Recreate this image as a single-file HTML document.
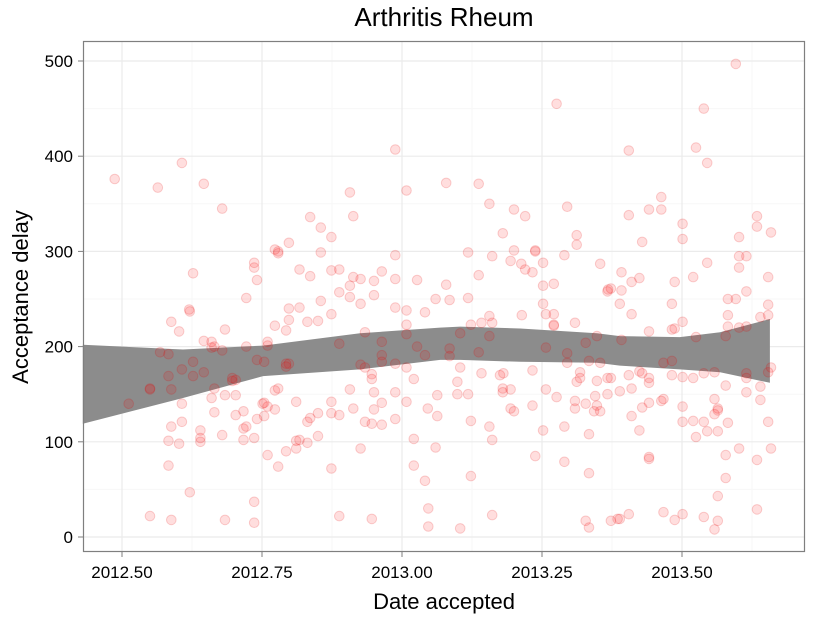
<!DOCTYPE html>
<html><head><meta charset="utf-8"><style>
html,body{margin:0;padding:0;background:#fff;}
svg text{font-family:"Liberation Sans",sans-serif;}
</style></head><body>
<svg id="chart" width="825" height="618" xmlns="http://www.w3.org/2000/svg">
<text x="444" y="26" font-size="26" text-anchor="middle" fill="#000">Arthritis Rheum</text>
<g id="grid"></g>
<g id="ribbon"></g>
<g id="points"></g>
<rect x="83.5" y="41.5" width="721" height="510" fill="none" stroke="#7f7f7f" stroke-width="1.2"/>
<g id="axes"></g>
<text x="444" y="609" font-size="22" text-anchor="middle" fill="#000">Date accepted</text>
<text transform="translate(28,297) rotate(-90)" font-size="22" text-anchor="middle" fill="#000">Acceptance delay</text>
</svg>
<script>
const xTicks=[2012.5,2012.75,2013.0,2013.25,2013.5];
const xTickLabels=["2012.50","2012.75","2013.00","2013.25","2013.50"];
const yTicks=[0,100,200,300,400,500];
const yTickLabels=["0","100","200","300","400","500"];
const ribbonDates=[2012.430,2012.609,2012.752,2012.925,2013.068,2013.104,2013.211,2013.348,2013.389,2013.496,2013.568,2013.657];
const ribbonUpper=[202,197,201,214,220,221,219,214,211,210,215,229];
const ribbonLower=[119,146,169,176,186,186,184,183,180,176,173,162];
const dates=[2012.487,2012.607,2012.564,2012.646,2012.679,2012.736,2012.736,2012.741,2012.627,2012.722,2012.621,2012.620,2012.588,2012.602,2012.684,2012.646,2012.660,2012.660,2012.665,2012.679,2012.722,2012.741,2012.568,2012.583,2012.627,2012.607,2012.583,2012.627,2012.646,2012.550,2012.550,2012.588,2012.697,2012.703,2012.697,2012.512,2012.665,2012.660,2012.684,2012.703,2012.607,2012.665,2012.703,2012.717,2012.751,2012.607,2012.588,2012.640,2012.640,2012.640,2012.583,2012.602,2012.679,2012.717,2012.722,2012.717,2012.736,2012.741,2012.583,2012.621,2012.736,2012.550,2012.588,2012.684,2012.736,
2012.988,2013.008,2012.907,2012.913,2012.836,2012.855,2012.874,2012.798,2012.773,2012.779,2012.779,2012.855,2012.988,2012.817,2012.836,2012.874,2012.888,2012.913,2012.926,2012.907,2012.950,2012.964,2012.988,2013.027,2012.888,2012.907,2012.926,2012.950,2012.855,2012.798,2012.817,2012.874,2012.831,2012.850,2012.798,2012.773,2012.793,2012.988,2013.008,2013.041,2013.060,2013.008,2013.008,2012.760,2012.760,2012.934,2012.888,2012.964,2012.964,2012.964,2013.027,2013.041,2012.754,2012.793,2012.798,2012.793,2012.926,2012.934,2012.946,2012.946,2012.988,2013.008,2013.021,2012.773,2012.779,2012.907,2012.950,2012.988,2013.063,2012.754,2012.760,2012.754,2012.773,2012.811,2012.874,2012.874,2012.888,2012.831,2012.836,2012.850,2012.913,2012.934,2012.946,2012.950,2012.964,2012.964,2012.988,2013.008,2013.046,2013.063,2012.811,2012.817,2012.811,2012.831,2012.850,2012.760,2012.793,2012.779,2012.874,2012.926,2013.021,2013.021,2013.060,2013.041,2013.047,2013.047,2012.888,2012.946,
2013.276,2013.079,2013.137,2013.156,2013.200,2013.220,2013.295,2013.180,2013.312,2013.312,2013.118,2013.161,2013.200,2013.194,2013.238,2013.238,2013.213,2013.220,2013.233,2013.252,2013.252,2013.290,2013.271,2013.354,2013.137,2013.079,2013.085,2013.118,2013.156,2013.142,2013.161,2013.123,2013.214,2013.252,2013.257,2013.271,2013.271,2013.271,2013.309,2013.368,2013.373,2013.367,2013.104,2013.156,2013.137,2013.085,2013.085,2013.257,2013.295,2013.295,2013.328,2013.334,2013.348,2013.354,2013.104,2013.142,2013.175,2013.181,2013.233,2013.099,2013.180,2013.180,2013.194,2013.257,2013.276,2013.318,2013.318,2013.312,2013.348,2013.367,2013.373,2013.367,2013.099,2013.118,2013.194,2013.200,2013.233,2013.309,2013.309,2013.328,2013.345,2013.348,2013.343,2013.354,2013.123,2013.156,2013.161,2013.252,2013.290,2013.334,2013.238,2013.290,2013.334,2013.123,2013.161,2013.104,2013.328,2013.334,2013.373,2013.385,
2013.596,2013.539,2013.525,2013.545,2013.405,2013.463,2013.463,2013.441,2013.405,2013.429,2013.501,2013.501,2013.602,2013.634,2013.634,2013.659,2013.392,2013.392,2013.389,2013.410,2013.424,2013.487,2013.520,2013.545,2013.602,2013.615,2013.602,2013.654,2013.482,2013.410,2013.582,2013.596,2013.615,2013.582,2013.654,2013.640,2013.654,2013.441,2013.482,2013.487,2013.501,2013.525,2013.578,2013.582,2013.602,2013.615,2013.392,2013.467,2013.482,2013.405,2013.424,2013.429,2013.441,2013.441,2013.482,2013.501,2013.520,2013.539,2013.558,2013.615,2013.615,2013.654,2013.659,2013.578,2013.640,2013.615,2013.410,2013.389,2013.429,2013.441,2013.463,2013.467,2013.501,2013.501,2013.520,2013.539,2013.558,2013.564,2013.564,2013.558,2013.582,2013.564,2013.545,2013.525,2013.640,2013.654,2013.410,2013.424,2013.441,2013.441,2013.578,2013.602,2013.634,2013.659,2013.578,2013.564,2013.405,2013.389,2013.467,2013.487,2013.501,2013.539,2013.564,2013.558,2013.634];
const delays=[376,393,367,371,345,288,283,270,277,251,237,239,226,216,218,206,205,199,200,196,200,186,194,192,184,176,169,169,173,156,155,155,167,165,164,140,156,146,149,149,140,131,128,132,140,121,116,112,104,100,101,98,107,114,116,102,104,124,75,47,37,22,18,18,15,
407,364,362,337,336,325,315,309,302,300,298,299,296,281,274,280,281,273,271,264,269,279,271,270,257,252,245,254,248,240,241,234,226,227,228,222,217,241,238,236,250,223,213,205,201,215,203,205,191,184,200,191,184,182,182,179,181,178,171,166,182,178,166,154,156,155,152,152,149,141,137,127,134,142,142,130,128,121,125,130,135,121,119,134,141,118,124,142,135,127,101,102,93,99,106,86,90,74,72,93,103,75,94,59,30,11,22,19,
455,372,371,350,344,337,347,319,317,307,299,295,301,290,301,300,287,281,278,288,264,296,266,287,275,265,249,251,232,225,225,223,233,245,234,234,223,222,225,260,261,258,214,211,194,198,190,199,193,183,204,185,211,183,178,172,170,172,175,163,156,152,155,155,147,173,167,163,164,167,167,150,150,150,135,132,138,143,135,140,148,138,132,132,122,116,102,112,116,108,85,79,67,64,23,9,17,10,17,19,
497,450,409,393,406,357,344,344,338,310,329,313,315,337,326,320,278,259,245,268,272,268,273,288,295,295,283,273,245,234,250,250,258,233,244,231,233,216,218,219,226,210,211,221,220,221,207,183,185,170,174,172,167,162,170,168,167,172,173,172,167,173,178,159,158,152,156,153,136,141,143,145,137,121,122,121,145,135,133,129,120,111,111,105,144,121,127,112,84,82,86,93,81,93,62,43,24,19,26,18,24,21,17,8,29];

const NS="http://www.w3.org/2000/svg";
const X0=83,X1=805,Y0=41,Y1=552;
function xs(d){return 122+(d-2012.5)*560;}
function ys(v){return 537-v*0.952;}
function mk(tag,attrs,parent){const e=document.createElementNS(NS,tag);for(const k in attrs)e.setAttribute(k,attrs[k]);parent.appendChild(e);return e;}
const grid=document.getElementById('grid');
const bg=mk('rect',{x:X0,y:Y0,width:X1-X0,height:Y1-Y0,fill:'#fff'},grid);


for(let i=0;i<xTicks.length+1;i++){
  const m=xTicks[0]-0.125+i*0.25;const px=xs(m);
  if(px>X0&&px<X1){const l=mk('line',{x1:px,x2:px,y1:Y0,y2:Y1,stroke:'#f7f7f7','stroke-width':1},grid);
  
  }
}
for(let i=0;i<yTicks.length;i++){
  const m=yTicks[i]+50;const py=ys(m);
  if(py>Y0&&py<Y1){const l=mk('line',{x1:X0,x2:X1,y1:py,y2:py,stroke:'#f7f7f7','stroke-width':1},grid);
  
  }
}
const axes=document.getElementById('axes');
xTicks.forEach((t,i)=>{const px=xs(t);
  const g=mk('line',{x1:px,x2:px,y1:Y0,y2:Y1,stroke:'#ebebeb','stroke-width':1.2},grid);
  
  
  const tk=mk('line',{x1:px,x2:px,y1:Y1,y2:Y1+5,stroke:'#7f7f7f','stroke-width':1},axes);
  
  
  const tx=mk('text',{x:px,y:578,'font-size':17,'text-anchor':'middle',fill:'#000'},axes);tx.textContent=xTickLabels[i];
  
  
});
yTicks.forEach((t,i)=>{const py=ys(t);
  const g=mk('line',{x1:X0,x2:X1,y1:py,y2:py,stroke:'#ebebeb','stroke-width':1.2},grid);
  
  
  const tk=mk('line',{x1:X0-5,x2:X0,y1:py,y2:py,stroke:'#7f7f7f','stroke-width':1},axes);
  
  
  const tx=mk('text',{x:73,y:py+6,'font-size':17,'text-anchor':'end',fill:'#000'},axes);tx.textContent=yTickLabels[i];
  
  
});
let pts=[];
for(let i=0;i<ribbonDates.length;i++)pts.push(xs(ribbonDates[i]).toFixed(1)+','+ys(ribbonUpper[i]).toFixed(1));
for(let i=ribbonDates.length-1;i>=0;i--)pts.push(xs(ribbonDates[i]).toFixed(1)+','+ys(ribbonLower[i]).toFixed(1));
const rb=mk('polygon',{points:pts.join(' '),fill:'#8c8c8c'},document.getElementById('ribbon'));


const pg=document.getElementById('points');
for(let i=0;i<dates.length;i++){
  const c=mk('circle',{cx:xs(dates[i]).toFixed(1),cy:ys(delays[i]).toFixed(1),r:4.8,fill:'rgba(255,0,0,0.13)',stroke:'rgba(230,0,0,0.18)','stroke-width':1},pg);
  
  
}
</script>
</body></html>
